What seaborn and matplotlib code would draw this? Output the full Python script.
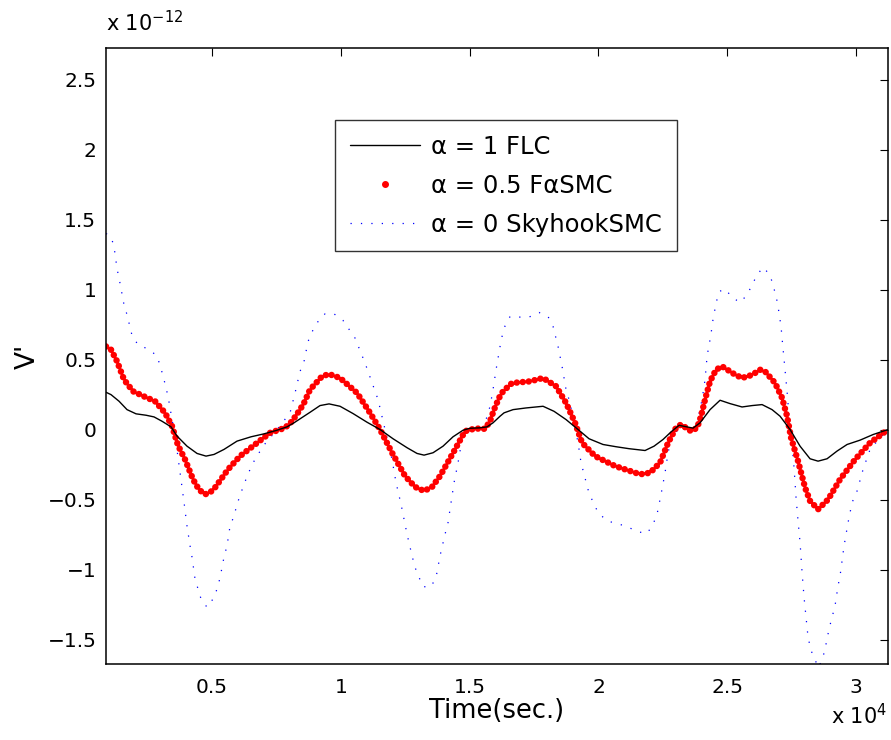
import matplotlib
matplotlib.use("Agg")
import matplotlib.pyplot as plt
from matplotlib.lines import Line2D
from matplotlib.ticker import FuncFormatter
import seaborn as sns
import numpy as np
import pandas as pd

# time (s) and V' (x 1e-12)
t_flc = [885, 1079, 1390, 1700, 2050, 2438, 2748, 3059, 3408, 3641, 4029, 4418,
         4767, 5078, 5466, 5970, 6514, 7018, 7523, 7911, 8183, 8571, 8804, 9192,
         9542, 9969, 10473, 11017, 11522, 12026, 12570, 12958, 13230, 13579,
         13967, 14355, 14744, 15015, 15404, 15675, 15908, 16180, 16335, 16685,
         17189, 17849, 18276, 18742, 19208, 19635, 20178, 20683, 21188, 21809,
         22158, 22508, 22818, 23129, 23400, 23672, 23944, 24332, 24720, 25109,
         25574, 25963, 26351, 26739, 27050, 27438, 27826, 28214, 28525, 28874,
         29262, 29651, 30155, 30660, 31242]
v_flc = [0.266, 0.249, 0.202, 0.142, 0.112, 0.102, 0.090, 0.059, 0.019, -0.047,
         -0.119, -0.171, -0.190, -0.178, -0.142, -0.083, -0.052, -0.031, -0.005,
         0.019, 0.048, 0.095, 0.123, 0.171, 0.183, 0.166, 0.114, 0.052, 0.0,
         -0.066, -0.130, -0.171, -0.183, -0.166, -0.119, -0.052, -0.005, 0.009,
         0.012, 0.019, 0.048, 0.095, 0.119, 0.142, 0.154, 0.166, 0.130, 0.071,
         0.0, -0.066, -0.107, -0.123, -0.137, -0.150, -0.119, -0.071, -0.017,
         0.030, 0.020, 0.010, 0.048, 0.142, 0.209, 0.185, 0.161, 0.171, 0.178,
         0.142, 0.095, 0.0, -0.119, -0.209, -0.226, -0.209, -0.154, -0.107,
         -0.076, -0.036, 0.0]

t_fsmc = [885, 1079, 1312, 1584, 1933, 2399, 2787, 3175, 3447, 3680, 3952, 4262,
          4495, 4728, 4922, 5116, 5621, 6087, 6669, 7251, 7834, 8105, 8416, 8571,
          8804, 9270, 9542, 9969, 10629, 11133, 11522, 11987, 12492, 12880,
          13230, 13540, 13851, 14433, 14821, 15210, 15598, 15792, 15947, 16141,
          16297, 16646, 17345, 17849, 18354, 18742, 19091, 19363, 19868, 20644,
          21615, 22003, 22391, 22702, 23012, 23206, 23400, 23595, 23828, 23983,
          24138, 24332, 24565, 24798, 25303, 25574, 25963, 26273, 26467, 26856,
          27127, 27321, 27477, 27748, 28020, 28214, 28525, 28913, 29379, 29961,
          30543, 31242]
v_fsmc = [0.593, 0.570, 0.487, 0.356, 0.273, 0.233, 0.202, 0.119, 0.024, -0.114,
          -0.214, -0.356, -0.430, -0.463, -0.450, -0.415, -0.285, -0.190, -0.107,
          -0.024, 0.012, 0.059, 0.142, 0.190, 0.285, 0.380, 0.396, 0.368, 0.261,
          0.119, 0.0, -0.166, -0.332, -0.410, -0.439, -0.410, -0.332, -0.142,
          -0.012, 0.007, 0.005, 0.060, 0.142, 0.226, 0.273, 0.332, 0.344, 0.368,
          0.309, 0.190, 0.048, -0.095, -0.190, -0.261, -0.320, -0.309, -0.237,
          -0.095, 0.012, 0.036, 0.012, -0.012, 0.012, 0.095, 0.214, 0.344, 0.427,
          0.451, 0.392, 0.368, 0.390, 0.427, 0.415, 0.332, 0.226, 0.095, -0.059,
          -0.226, -0.415, -0.510, -0.570, -0.500, -0.356, -0.214, -0.095, 0.0]

t_sky = [885, 1079, 1195, 1312, 1428, 1584, 1700, 1894, 2127, 2515, 2865, 3098,
         3292, 3447, 3602, 3758, 3913, 4029, 4146, 4223, 4340, 4456, 4573, 4806,
         5039, 5194, 5310, 5466, 5582, 5699, 5854, 5970, 6242, 6553, 6980, 7523,
         8028, 8222, 8416, 8571, 8727, 8921, 9192, 9387, 9736, 10085, 10551,
         10939, 11444, 11716, 11987, 12143, 12337, 12570, 12764, 12880, 13036,
         13191, 13501, 13696, 13851, 14045, 14161, 14278, 14394, 14550, 14705,
         14899, 15520, 15792, 15908, 16025, 16180, 16258, 16374, 16568, 16918,
         17306, 17694, 18043, 18238, 18432, 18587, 18742, 18897, 19053, 19208,
         19324, 19441, 19635, 19984, 20334, 20722, 21110, 21498, 21887, 22119,
         22275, 22430, 22585, 22702, 22857, 23284, 23556, 23828, 24022, 24138,
         24216, 24293, 24371, 24410, 24488, 24565, 24682, 24915, 25186, 25497,
         25769, 25963, 26157, 26390, 26661, 26894, 26972, 27088, 27127, 27205,
         27282, 27321, 27399, 27515, 27593, 27670, 27748, 27826, 27904, 27981,
         28059, 28136, 28253, 28408, 28525, 28680, 28797, 28952, 29068, 29185,
         29301, 29379, 29534, 29689, 29845, 30039, 30272, 30543, 30932, 31242]
v_sky = [1.400, 1.377, 1.306, 1.150, 1.045, 0.890, 0.820, 0.672, 0.605, 0.575,
         0.527, 0.385, 0.237, 0.071, -0.093, -0.306, -0.520, -0.690, -0.830,
         -0.912, -1.068, -1.140, -1.210, -1.270, -1.210, -1.140, -1.060, -0.910,
         -0.830, -0.690, -0.617, -0.534, -0.390, -0.250, -0.119, 0.0, 0.119,
         0.261, 0.415, 0.486, 0.629, 0.712, 0.795, 0.826, 0.826, 0.779, 0.653,
         0.475, 0.214, 0.0, -0.214, -0.380, -0.534, -0.748, -0.902, -0.985,
         -1.056, -1.123, -1.123, -1.056, -0.902, -0.748, -0.665, -0.522, -0.380,
         -0.237, -0.071, 0.012, 0.0, 0.166, 0.285, 0.427, 0.593, 0.665, 0.740,
         0.807, 0.803, 0.803, 0.836, 0.807, 0.736, 0.593, 0.451, 0.285, 0.190,
         0.048, -0.095, -0.237, -0.320, -0.456, -0.593, -0.653, -0.672, -0.693,
         -0.729, -0.743, -0.677, -0.605, -0.463, -0.309, -0.166, -0.047, 0.036,
         -0.020, 0.048, 0.214, 0.356, 0.522, 0.605, 0.677, 0.748, 0.826, 0.902,
         0.985, 1.004, 0.945, 0.907, 0.962, 1.033, 1.104, 1.159, 1.104, 0.954,
         0.878, 0.736, 0.653, 0.499, 0.344, 0.273, 0.095, -0.107, -0.273, -0.487,
         -0.653, -0.807, -1.021, -1.199, -1.341, -1.484, -1.579, -1.643, -1.700,
         -1.650, -1.567, -1.424, -1.341, -1.258, -1.116, -1.045, -0.831, -0.665,
         -0.522, -0.439, -0.285, -0.142, -0.059, 0.0]

labels = ["α = 1 FLC", "α = 0.5 FαSMC", "α = 0 SkyhookSMC"]

sns.set_style("white")
plt.rcParams["font.family"] = ["DejaVu Sans"]
plt.rcParams["mathtext.fontset"] = "dejavusans"
plt.rcParams["lines.scale_dashes"] = False
plt.rcParams["text.color"] = "black"
plt.rcParams["axes.labelcolor"] = "black"

df_flc = pd.DataFrame({"t": t_flc, "v": np.array(v_flc) * 1e-12})
df_fsmc = pd.DataFrame({"t": t_fsmc, "v": np.array(v_fsmc) * 1e-12})
df_sky = pd.DataFrame({"t": t_sky, "v": np.array(v_sky) * 1e-12})

fig = plt.figure(figsize=(8.91, 7.40), dpi=100)
ax = fig.add_axes([0.119, 0.1027, 0.8777, 0.8324])

sns.lineplot(data=df_sky, x="t", y="v", ax=ax, color="#0000ff", lw=0.9,
             linestyle=(0, (0.9, 6.6)), errorbar=None)
sns.lineplot(data=df_fsmc, x="t", y="v", ax=ax, color="#ff0000", lw=4.7,
             linestyle=(0, (0.01, 4.3)), dash_capstyle="round", errorbar=None)
sns.lineplot(data=df_flc, x="t", y="v", ax=ax, color="black", lw=1.0,
             errorbar=None)

ax.set_xlim(885, 31242)
ax.set_ylim(-1.675e-12, 2.725e-12)
ax.set_xticks([5000, 10000, 15000, 20000, 25000, 30000])
ax.set_yticks(np.arange(-1.5, 2.51, 0.5) * 1e-12)


def fmt(scale):
    return FuncFormatter(lambda v, p: f"{v / scale:g}".replace("-", "\u2212"))


ax.xaxis.set_major_formatter(fmt(1e4))
ax.yaxis.set_major_formatter(fmt(1e-12))
ax.tick_params(direction="in", length=6, width=0.8, labelsize=14.5,
               top=True, right=True, pad=7, colors="black")
ax.tick_params(axis="x", pad=10)
for s in ax.spines.values():
    s.set_color("black")
    s.set_linewidth(1.1)

ax.set_xlabel("Time(sec.)", fontsize=18.5, labelpad=1)
ax.set_ylabel("V'", fontsize=19, labelpad=5)
fig.text(0.119, 0.952, r"x 10$^{-12}$", fontsize=15, ha="left", va="bottom")
fig.text(0.996, 0.016, r"x 10$^{4}$", fontsize=15, ha="right", va="bottom")

handles = [Line2D([], [], color="black", lw=1.0),
           Line2D([], [], color="#ff0000", ls="none", marker="o", ms=4),
           Line2D([], [], color="#0000ff", lw=0.9, linestyle=(0, (0.9, 6.6)))]
leg = ax.legend(handles, labels, loc="upper left", bbox_to_anchor=(0.293, 0.883),
                fontsize=17.5, frameon=True, fancybox=False, handlelength=2.9,
                borderpad=0.6, labelspacing=0.62, handletextpad=0.45,
                borderaxespad=0)
leg.get_frame().set_edgecolor("black")
leg.get_frame().set_linewidth(1.0)

fig.savefig("out.png", dpi=100)
